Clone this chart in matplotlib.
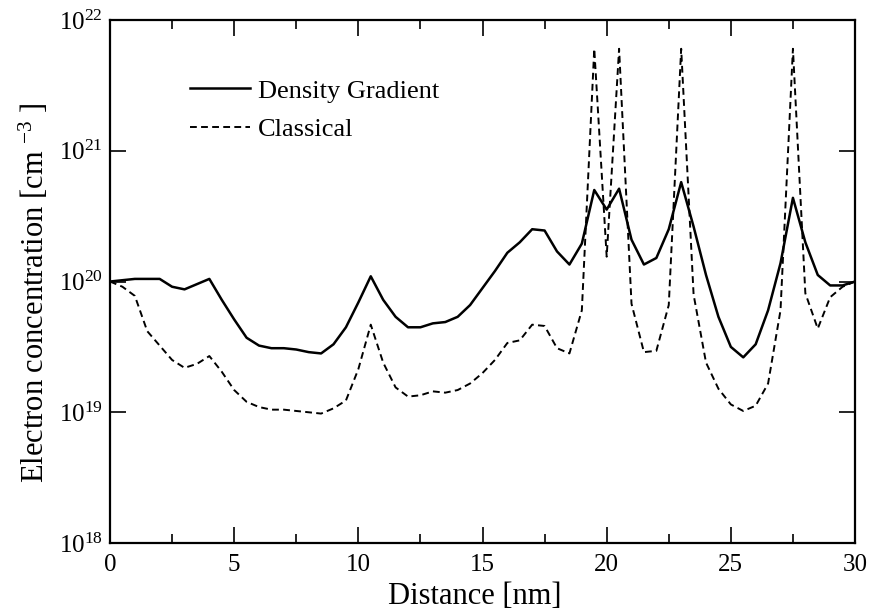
import numpy as np
import matplotlib
matplotlib.use("Agg")
import matplotlib.pyplot as plt
from matplotlib.ticker import MultipleLocator, LogLocator, NullLocator

# distance [nm], sampled every 0.5 nm
distance = np.arange(0, 30.5, 0.5)

# log10 of electron concentration [cm^-3]
log_density_gradient = [
    20.00, 20.01, 20.02, 20.02, 20.02, 19.96, 19.94, 19.98, 20.02, 19.86,
    19.71, 19.57, 19.51, 19.49, 19.49, 19.48, 19.46, 19.45, 19.52, 19.65,
    19.84, 20.04, 19.86, 19.73, 19.65, 19.65, 19.68, 19.69, 19.73, 19.82,
    19.95, 20.08, 20.22, 20.30, 20.40, 20.39, 20.23, 20.13, 20.29, 20.70,
    20.55, 20.71, 20.32, 20.13, 20.18, 20.40, 20.76, 20.42, 20.05, 19.73,
    19.50, 19.42, 19.52, 19.78, 20.14, 20.64, 20.30, 20.05, 19.97, 19.97,
    20.00,
]
log_classical = [
    20.00, 19.96, 19.89, 19.62, 19.51, 19.40, 19.34, 19.37, 19.43, 19.31,
    19.17, 19.08, 19.04, 19.02, 19.02, 19.01, 19.00, 18.99, 19.03, 19.09,
    19.33, 19.67, 19.38, 19.19, 19.12, 19.13, 19.16, 19.15, 19.17, 19.22,
    19.30, 19.40, 19.53, 19.55, 19.67, 19.66, 19.49, 19.45, 19.78, 21.78,
    20.19, 21.78, 19.83, 19.46, 19.47, 19.82, 21.78, 19.90, 19.38, 19.18,
    19.06, 19.01, 19.05, 19.22, 19.78, 21.78, 19.91, 19.64, 19.88, 19.96,
    20.00,
]

plt.rcParams['font.family'] = ['Liberation Serif', 'DejaVu Serif']
plt.rcParams['mathtext.fontset'] = 'custom'
plt.rcParams['mathtext.rm'] = 'Liberation Serif'
plt.rcParams['mathtext.it'] = 'Liberation Serif:italic'
plt.rcParams['mathtext.bf'] = 'Liberation Serif:bold'

fig = plt.figure(figsize=(8.69, 6.12), dpi=100)
ax = fig.add_axes([0.1266, 0.1127, 0.8573, 0.8546])

ax.plot(distance, 10 ** np.array(log_density_gradient), color='black',
        linewidth=1.8, label='Density Gradient')
ax.plot(distance, 10 ** np.array(log_classical), color='black',
        linewidth=1.4, dashes=(3.5, 2.2), label='Classical')

# Y軸
ax.set_yscale('log')
ax.set_ylim(1e18, 1e22)
ax.yaxis.set_major_locator(LogLocator(base=10, numticks=10))
ax.yaxis.set_minor_locator(NullLocator())
ax.set_ylabel('Electron concentration [cm $^{-3}$ ]', fontsize=22)
ax.yaxis.set_label_coords(-0.079, 0.478)

# X軸
ax.set_xlim(0, 30)
ax.xaxis.set_major_locator(MultipleLocator(5))
ax.xaxis.set_minor_locator(MultipleLocator(2.5))
ax.set_xlabel('Distance [nm]', fontsize=22)
ax.xaxis.set_label_coords(0.49, -0.074)

ax.tick_params(which='both', direction='in', top=True, right=True,
               width=1.2, labelsize=18)
ax.tick_params(which='major', length=11.5)
ax.tick_params(which='minor', length=6.5)
ax.tick_params(axis='x', pad=8)
ax.tick_params(axis='y', pad=5)
for spine in ax.spines.values():
    spine.set_linewidth(1.6)

ax.legend(loc='upper left', bbox_to_anchor=(0.107, 0.887), frameon=False,
          fontsize=19, handlelength=2.27, handletextpad=0.3,
          labelspacing=0.56, borderpad=0, borderaxespad=0)

fig.savefig('out.png', dpi=100)
